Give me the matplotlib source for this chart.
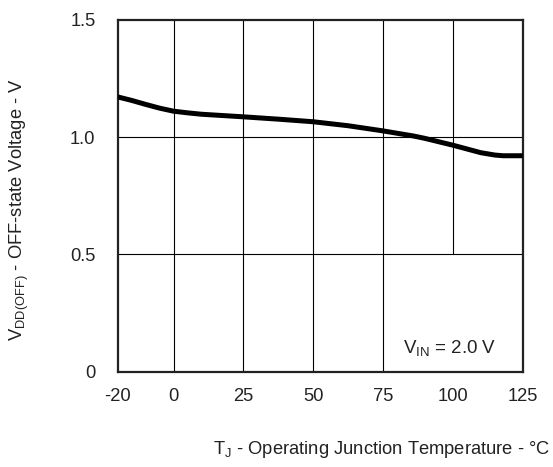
import matplotlib
matplotlib.use("Agg")
import matplotlib.pyplot as plt

plt.rcParams['font.family'] = ['Liberation Sans', 'DejaVu Sans']
plt.rcParams['mathtext.fontset'] = 'custom'
plt.rcParams['mathtext.rm'] = 'Liberation Sans'
plt.rcParams['mathtext.it'] = 'Liberation Sans'

temp = [-20, -15, -10, -5, 0, 5, 10, 25, 37.5, 50, 62.5, 75, 86, 90, 100, 105, 110, 115, 118, 125]
voff = [1.172, 1.157, 1.140, 1.124, 1.111, 1.104, 1.098, 1.087, 1.077, 1.066, 1.049, 1.027,
        1.005, 0.995, 0.966, 0.950, 0.934, 0.924, 0.921, 0.921]
xticks = [-20, 0, 25, 50, 75, 100, 125]
yticks = [0, 0.5, 1.0, 1.5]
yticklabels = ["0", "0.5", "1.0", "1.5"]

fig = plt.figure(figsize=(5.53, 4.67), dpi=100)
ax = fig.add_axes([0.2128, 0.2041, 0.9452 - 0.2128, 0.9572 - 0.2041])
ax.set_xlim(-20, 125)
ax.set_ylim(0, 1.5)

# grid
for xv in [0, 25, 50, 75]:
    ax.plot([xv, xv], [0, 1.5], color='black', lw=0.8, zorder=1)
ax.plot([100, 100], [0.5, 1.5], color='black', lw=0.8, zorder=1)
for yv in [0.5, 1.0]:
    ax.plot([-20, 125], [yv, yv], color='black', lw=0.8, zorder=1)

ax.plot(temp, voff, color='black', lw=3.6, solid_capstyle='butt',
        solid_joinstyle='round', zorder=3)

ax.set_xticks(xticks)
ax.set_xticklabels([str(t) for t in xticks])
ax.set_yticks(yticks)
ax.set_yticklabels(yticklabels)
ax.tick_params(axis='both', length=0, labelsize=13.2, colors='#222222')
ax.tick_params(axis='y', pad=16)
ax.tick_params(axis='x', pad=12)
for s in ax.spines.values():
    s.set_linewidth(1.6)
    s.set_color('#222222')

ax.text(0.935, 0.04, r'V$_{\mathrm{IN}}$ = 2.0 V', transform=ax.transAxes,
        ha='right', va='bottom', fontsize=13.5, color='#222222')

ax.set_xlabel(r'T$_{\mathrm{J}}$ - Operating Junction Temperature - °C', fontsize=13.2,
              color='#222222')
ax.xaxis.set_label_coords(0.653, -0.19)
ax.set_ylabel(r'V$_{\mathrm{DD(OFF)}}$ - OFF-state Voltage - V', fontsize=13.2,
              color='#222222')
ax.yaxis.set_label_coords(-0.215, 0.46)

fig.savefig('out.png', dpi=100)
